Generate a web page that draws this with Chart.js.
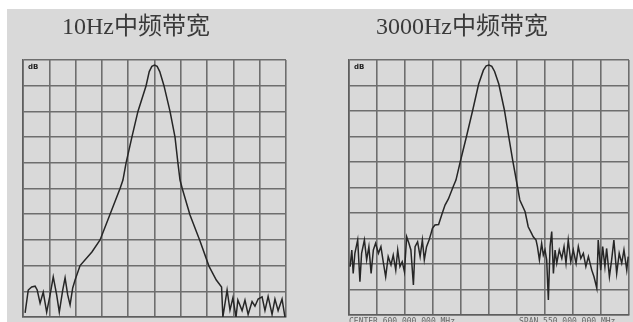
<!DOCTYPE html>
<html>
<head>
<meta charset="utf-8">
<script src="https://cdn.jsdelivr.net/npm/chart.js@4.4.1/dist/chart.umd.min.js"></script>
<style>
  body { margin: 0; width: 633px; height: 322px; overflow: hidden; background: #fff; position: relative; }
  #bg { position: absolute; left: 7px; top: 9px; width: 626px; height: 313px; background: #d9d9d9; }
  .panel { position: absolute; top: 0; height: 322px; }
  .title { position: absolute; top: 14px; font-size: 24px; line-height: 24px; color: #3a3a3a; white-space: nowrap;
           font-family: "Liberation Serif", "Noto Sans CJK SC", serif; }
  .db { position: absolute; top: 63px; font: bold 7px "DejaVu Sans", sans-serif; color: #222; }
  .foot { position: absolute; top: 317px; font: 8px "DejaVu Sans Mono", monospace; color: #666; white-space: nowrap; }
</style>
</head>
<body>
<div id="bg"></div>
<div class="panel" style="left:0;width:316px"><canvas id="left_chart" width="316" height="322"></canvas></div>
<div class="panel" style="left:316px;width:317px"><canvas id="right_chart" width="317" height="322"></canvas></div>
<div class="title" style="left:62px">10Hz中频带宽</div>
<div class="title" style="left:376px">3000Hz中频带宽</div>
<div class="db" style="left:28px">dB</div>
<div class="db" style="left:354px">dB</div>
<div class="foot" style="left:349px">CENTER 600.000 000 MHz</div>
<div class="foot" style="left:519px">SPAN 550.000 000 MHz</div>
<script>
// 10Hz IF bandwidth trace (x, y in grid divisions)
const narrowX = [0.08, 0.2, 0.33, 0.46, 0.54, 0.65, 0.77, 0.9, 1.03, 1.15, 1.28, 1.38, 1.51, 1.6, 1.7, 1.79, 1.89, 1.98,
  2.17, 2.62, 2.93, 3.31, 3.69, 3.8, 3.92, 4.14, 4.37, 4.68, 4.8, 4.9, 5.0, 5.1, 5.2, 5.36, 5.59, 5.78, 5.89, 5.97, 6.06,
  6.35, 6.73, 7.07, 7.35, 7.55, 7.6, 7.76, 7.87, 7.98, 8.1, 8.17, 8.33, 8.44, 8.56, 8.71, 8.82, 8.94, 9.09, 9.2, 9.32,
  9.47, 9.58, 9.7, 9.85, 9.96];
const narrowY = [0.16, 1.05, 1.17, 1.2, 1.05, 0.54, 0.97, 0.19, 0.86, 1.56, 0.86, 0.19, 1.05, 1.52, 0.86, 0.47, 1.13, 1.44,
  2.0, 2.53, 3.0, 4.0, 5.0, 5.33, 6.0, 7.0, 8.0, 9.0, 9.55, 9.75, 9.8, 9.75, 9.55, 9.0, 8.0, 7.0, 6.0, 5.33, 4.98,
  3.97, 2.96, 1.98, 1.44, 1.17, 0.0, 1.05, 0.27, 0.74, 0.0, 0.66, 0.25, 0.66, 0.1, 0.6, 0.42, 0.7, 0.78, 0.25, 0.8,
  0.1, 0.7, 0.25, 0.7, 0.0];

// 3000Hz IF bandwidth trace
const wideX = [0.04, 0.1, 0.15, 0.21, 0.31, 0.39, 0.45, 0.55, 0.63, 0.71, 0.79, 0.87, 0.95, 1.05, 1.14, 1.23, 1.31, 1.4,
  1.5, 1.58, 1.67, 1.74, 1.82, 1.9, 1.98, 2.06, 2.14, 2.21, 2.3, 2.36, 2.45, 2.54, 2.62, 2.69, 2.77, 2.86, 2.93, 2.98,
  3.07, 3.2, 3.33, 3.43, 3.55, 3.73, 3.82, 3.98, 4.2, 4.42, 4.63, 4.8, 4.9, 5.0, 5.1, 5.2, 5.35, 5.55, 5.7, 5.85, 6.02,
  6.1, 6.29, 6.4, 6.52, 6.58, 6.68, 6.73, 6.8, 6.88, 6.94, 7.0, 7.06, 7.12, 7.18, 7.24, 7.3, 7.36, 7.42, 7.51, 7.6,
  7.68, 7.75, 7.83, 7.92, 8.01, 8.11, 8.19, 8.28, 8.37, 8.46, 8.55, 8.67, 8.75, 8.85, 8.9, 8.99, 9.06, 9.14, 9.2, 9.3,
  9.38, 9.46, 9.56, 9.65, 9.74, 9.82, 9.92, 9.97];
const wideY = [1.9, 2.55, 1.63, 2.42, 2.94, 1.31, 2.42, 2.94, 2.16, 2.68, 1.63, 2.55, 2.81, 2.42, 2.68, 2.03, 1.5, 2.29,
  1.96, 2.35, 1.76, 2.55, 1.9, 2.09, 1.7, 3.07, 2.81, 2.55, 1.18, 2.68, 2.87, 2.29, 2.94, 2.16, 2.68, 2.94, 3.2, 3.4,
  3.53, 3.55, 3.99, 4.31, 4.55, 5.06, 5.29, 6.04, 7.02, 8.04, 9.06, 9.6, 9.77, 9.8, 9.75, 9.55, 9.06, 8.04, 7.02, 6.04, 5.02,
  4.51, 4.05, 3.46, 3.2, 3.07, 2.94, 2.68, 2.16, 2.81, 2.35, 2.55, 2.16, 0.59, 2.68, 3.27, 1.63, 2.55, 2.03, 2.55, 2.22,
  2.68, 2.03, 2.94, 2.09, 2.55, 2.03, 2.68, 2.22, 2.42, 1.9, 2.29, 1.76, 1.5, 1.05, 2.94, 1.76, 2.68, 1.9, 2.61, 1.5,
  2.16, 2.94, 1.63, 2.42, 2.03, 2.55, 1.76, 2.29];

function makeTrace(id, xs, ys, padding) {
  const ctx = document.getElementById(id);
  return new Chart(ctx, {
    type: "scatter",
    data: {
      datasets: [
        {
          data: xs.map((x, i) => ({ x: x, y: ys[i] })),
          showLine: true,
          borderColor: "#262626",
          borderWidth: 1.5,
          pointRadius: 0,
          tension: 0,
        },
      ],
    },
    options: {
      responsive: false,
      animation: false,
      layout: { padding: padding },
      plugins: {
        legend: { display: false },
        tooltip: { enabled: false },
      },
      scales: {
        x: {
          type: "linear",
          min: 0,
          max: 10,
          ticks: { display: false, stepSize: 1 },
          grid: { color: "#6e6e6e", lineWidth: 1.6, drawTicks: false },
          border: { color: "#5e5e5e", width: 1.6 },
        },
        y: {
          type: "linear",
          min: 0,
          max: 10,
          ticks: { display: false, stepSize: 1 },
          grid: { color: "#6e6e6e", lineWidth: 1.6, drawTicks: false },
          border: { color: "#5e5e5e", width: 1.6 },
        },
      },
    },
  });
}

makeTrace("left_chart", narrowX, narrowY, { left: 23, top: 60, right: 30, bottom: 5 });
makeTrace("right_chart", wideX, wideY, { left: 33, top: 60, right: 4, bottom: 7 });
</script>
</body>
</html>
